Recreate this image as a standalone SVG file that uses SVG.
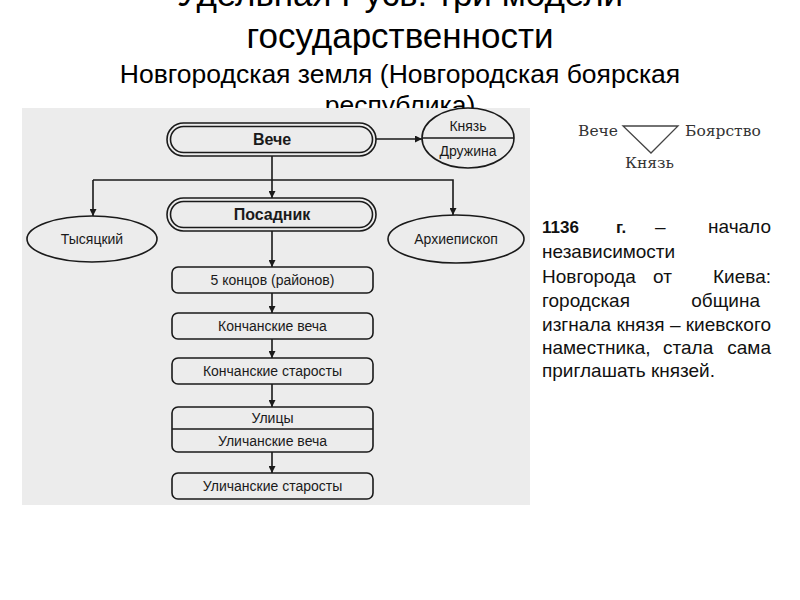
<svg xmlns="http://www.w3.org/2000/svg" width="800" height="600" viewBox="0 0 800 600">
<style>
.title{font-family:"Liberation Sans",Arial,sans-serif;font-size:35px;fill:#000;text-anchor:middle}
.sub{font-family:"Liberation Sans",Arial,sans-serif;font-size:26.5px;fill:#000;text-anchor:middle}
.shape{fill:#ececec;stroke:#1a1a1a;stroke-width:1.6}
.lbl{font-family:"Liberation Sans",Arial,sans-serif;font-size:14px;fill:#1a1a1a;text-anchor:middle}
.blbl{font-family:"Liberation Sans",Arial,sans-serif;font-size:16px;font-weight:bold;fill:#1a1a1a;text-anchor:middle}
.conn{fill:none;stroke:#1a1a1a;stroke-width:1.6}
.serif{font-family:"DejaVu Serif","Liberation Serif",serif;font-size:15.5px;fill:#333}
.para{font-family:"Liberation Sans",Arial,sans-serif;font-size:19px;fill:#111}
</style>
<defs>
<marker id="arr" viewBox="0 0 10 10" refX="10" refY="5" markerWidth="7" markerHeight="7" markerUnits="userSpaceOnUse" orient="auto">
<path d="M0,0 L10,5 L0,10 z" fill="#1a1a1a"/>
</marker>
</defs>
<rect width="800" height="600" fill="#fff"/>
<g id="title">
<text class="title" x="400" y="6">Удельная Русь: три модели</text>
<text class="title" x="400" y="48">государственности</text>
<text class="sub" x="400" y="83">Новгородская земля (Новгородская боярская</text>
<text class="sub" x="400" y="114">республика)</text>
</g>
<rect id="panel" x="22" y="108" width="508" height="397" fill="#ececec"/>
<g id="connectors">
<line class="conn" x1="376" y1="139" x2="422" y2="139" marker-end="url(#arr)"/>
<line class="conn" x1="272" y1="156" x2="272" y2="198" marker-end="url(#arr)"/>
<polyline class="conn" points="93,180 453,180 453,215" marker-end="url(#arr)"/>
<line class="conn" x1="93" y1="180" x2="93" y2="216" marker-end="url(#arr)"/>
<line class="conn" x1="272" y1="231" x2="272" y2="267" marker-end="url(#arr)"/>
<line class="conn" x1="272" y1="293" x2="272" y2="313" marker-end="url(#arr)"/>
<line class="conn" x1="272" y1="339" x2="272" y2="358" marker-end="url(#arr)"/>
<line class="conn" x1="272" y1="384" x2="272" y2="407" marker-end="url(#arr)"/>
<line class="conn" x1="272" y1="452" x2="272" y2="473" marker-end="url(#arr)"/>
</g>
<g id="veche">
<rect class="shape" x="167" y="123" width="209" height="33" rx="16.5"/>
<rect class="shape" x="170.5" y="126.5" width="202" height="26" rx="13" stroke-width="1.3"/>
<text class="blbl" x="272" y="145">Вече</text>
</g>
<g id="knyaz">
<ellipse class="shape" cx="468" cy="138" rx="46" ry="30"/>
<line class="conn" x1="422" y1="138" x2="514" y2="138"/>
<text class="lbl" x="468" y="131">Князь</text>
<text class="lbl" x="468" y="156">Дружина</text>
</g>
<g id="posadnik">
<rect class="shape" x="167" y="198" width="209" height="33" rx="16.5"/>
<rect class="shape" x="170.5" y="201.5" width="202" height="26" rx="13" stroke-width="1.3"/>
<text class="blbl" x="272" y="220">Посадник</text>
</g>
<g id="tysyatsky">
<ellipse class="shape" cx="92" cy="239" rx="65" ry="23"/>
<text class="lbl" x="92" y="244">Тысяцкий</text>
</g>
<g id="arkhiepiskop">
<ellipse class="shape" cx="456" cy="239" rx="68" ry="24"/>
<text class="lbl" x="456" y="244">Архиепископ</text>
</g>
<g id="kontsy">
<rect class="shape" x="172" y="267" width="201" height="26" rx="6"/>
<text class="lbl" x="272.5" y="285">5 концов (районов)</text>
</g>
<g id="konch-veche">
<rect class="shape" x="172" y="313" width="201" height="26" rx="6"/>
<text class="lbl" x="272.5" y="331">Кончанские веча</text>
</g>
<g id="konch-starosty">
<rect class="shape" x="172" y="358" width="201" height="26" rx="6"/>
<text class="lbl" x="272.5" y="376">Кончанские старосты</text>
</g>
<g id="ulitsy">
<rect class="shape" x="172" y="407" width="201" height="45" rx="6"/>
<line class="conn" x1="172" y1="429" x2="373" y2="429"/>
<text class="lbl" x="272.5" y="423">Улицы</text>
<text class="lbl" x="272.5" y="446">Уличанские веча</text>
</g>
<g id="ulich-starosty">
<rect class="shape" x="172" y="473" width="201" height="26" rx="6"/>
<text class="lbl" x="272.5" y="491">Уличанские старосты</text>
</g>
<g id="triangle">
<text class="serif" x="578" y="136">Вече</text>
<polygon points="623,126 678,126 651,153" fill="none" stroke="#444" stroke-width="1.3"/>
<text class="serif" x="685" y="136">Боярство</text>
<text class="serif" x="625" y="168">Князь</text>
</g>
<g id="note" class="para">
<text x="542" y="233" font-weight="bold" font-size="17">1136</text>
<text x="616" y="233" font-weight="bold" font-size="17">г.</text>
<text x="655" y="233">–</text>
<text x="771" y="233" text-anchor="end">начало</text>
<text x="542" y="258">независимости</text>
<text x="542" y="283">Новгорода</text>
<text x="653" y="283">от</text>
<text x="771" y="283" text-anchor="end">Киева:</text>
<text x="542" y="307">городская</text>
<text x="760" y="307" text-anchor="end">община</text>
<text x="542" y="331" textLength="229" lengthAdjust="spacingAndGlyphs">изгнала князя – киевского</text>
<text x="542" y="354">наместника,</text>
<text x="663" y="354">стала</text>
<text x="771" y="354" text-anchor="end">сама</text>
<text x="542" y="377">приглашать князей.</text>
</g>
</svg>
